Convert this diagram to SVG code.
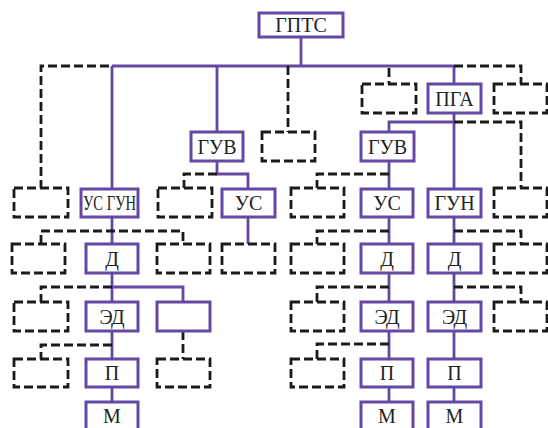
<svg xmlns="http://www.w3.org/2000/svg" width="548" height="428" viewBox="0 0 548 428">
<style>
.n{fill:#fff;stroke:#6548a3;stroke-width:3}
.d{fill:#fff;stroke:#1a1a1a;stroke-width:2.8;stroke-dasharray:9 4}
.c{fill:none;stroke:#6548a3;stroke-width:2.8}
.cd{fill:none;stroke:#1a1a1a;stroke-width:2.8;stroke-dasharray:9 4}
text{font-family:"Liberation Serif","Times New Roman",serif;font-size:20px;fill:#222;text-anchor:middle}
</style>
<rect width="548" height="428" fill="#fff"/>
<g id="connectors">
<path class="c" d="M301 37V66M112 66H454M112 66V189M217 66V132M454 66V84M217 161V174H248V189M248 217V244M112 217V244M112 273V302M112 287H183V302M112 331V359M112 387V402M454 113V189M454 122H389V132M389 161V189M389 217V244M389 273V302M389 331V359M389 387V402M454 217V244M454 273V302M454 331V359M454 387V402"/>
<path class="cd" d="M41 189V66H112M288 66V132M389 68V84M454 66H521V84M217 174H184V189M41 244V231H183V244M112 287H41V302M112 345H41V359M183 331V359M454 122H521V189M389 174H317V189M389 231H317V244M454 231H521V244M389 287H317V302M454 287H521V302M389 344H317V359"/>
</g>
<g id="gpts"><rect class="n" x="259" y="13" width="84" height="24"/><text x="301" y="32">ГПТС</text></g>
<g id="pga"><rect class="n" x="428" y="84" width="53" height="29"/><text x="454.5" y="106">ПГА</text></g>
<g id="d1"><rect class="d" x="362" y="84" width="54" height="29"/></g>
<g id="d2"><rect class="d" x="494" y="84" width="53" height="29"/></g>
<g id="guv1"><rect class="n" x="191" y="132" width="52" height="29"/><text x="217" y="154">ГУВ</text></g>
<g id="d3"><rect class="d" x="262" y="132" width="53" height="29"/></g>
<g id="guv2"><rect class="n" x="361" y="132" width="53" height="29"/><text x="387.5" y="154">ГУВ</text></g>
<g id="usgun"><rect class="n" x="81" y="189" width="57" height="28"/><text x="109.5" y="210" textLength="53" lengthAdjust="spacingAndGlyphs">УС ГУН</text></g>
<g id="us1"><rect class="n" x="222" y="189" width="53" height="28"/><text x="248.5" y="210">УС</text></g>
<g id="us2"><rect class="n" x="361" y="189" width="52" height="28"/><text x="387" y="210">УС</text></g>
<g id="gun"><rect class="n" x="428" y="189" width="53" height="28"/><text x="454.5" y="210">ГУН</text></g>
<g id="d4"><rect class="d" x="14" y="188" width="54" height="29"/></g>
<g id="d5"><rect class="d" x="158" y="188" width="54" height="29"/></g>
<g id="d6"><rect class="d" x="291" y="188" width="53" height="29"/></g>
<g id="d7"><rect class="d" x="494" y="188" width="53" height="29"/></g>
<g id="dd1"><rect class="n" x="86" y="244" width="52" height="29"/><text x="112" y="266">Д</text></g>
<g id="dd2"><rect class="n" x="361" y="244" width="52" height="29"/><text x="387" y="266">Д</text></g>
<g id="dd3"><rect class="n" x="428" y="244" width="53" height="29"/><text x="454.5" y="266">Д</text></g>
<g id="d8"><rect class="d" x="12" y="244" width="53" height="29"/></g>
<g id="d9"><rect class="d" x="157" y="244" width="53" height="29"/></g>
<g id="d10"><rect class="d" x="222" y="244" width="53" height="29"/></g>
<g id="d11"><rect class="d" x="291" y="244" width="53" height="29"/></g>
<g id="d12"><rect class="d" x="494" y="244" width="53" height="29"/></g>
<g id="ed1"><rect class="n" x="86" y="302" width="52" height="29"/><text x="112" y="324">ЭД</text></g>
<g id="blank"><rect class="n" x="157" y="302" width="53" height="29"/></g>
<g id="ed2"><rect class="n" x="361" y="302" width="52" height="29"/><text x="387" y="324">ЭД</text></g>
<g id="ed3"><rect class="n" x="428" y="302" width="53" height="29"/><text x="454.5" y="324">ЭД</text></g>
<g id="d13"><rect class="d" x="14" y="302" width="54" height="29"/></g>
<g id="d14"><rect class="d" x="291" y="302" width="53" height="29"/></g>
<g id="d15"><rect class="d" x="494" y="302" width="53" height="29"/></g>
<g id="p1"><rect class="n" x="86" y="359" width="52" height="28"/><text x="112" y="380">П</text></g>
<g id="p2"><rect class="n" x="361" y="359" width="52" height="28"/><text x="387" y="380">П</text></g>
<g id="p3"><rect class="n" x="428" y="359" width="53" height="28"/><text x="454.5" y="380">П</text></g>
<g id="d16"><rect class="d" x="14" y="359" width="54" height="28"/></g>
<g id="d17"><rect class="d" x="157" y="359" width="53" height="28"/></g>
<g id="d18"><rect class="d" x="291" y="359" width="53" height="28"/></g>
<g id="m1"><rect class="n" x="86" y="402" width="52" height="32"/><text x="112" y="423">М</text></g>
<g id="m2"><rect class="n" x="361" y="402" width="52" height="32"/><text x="387" y="423">М</text></g>
<g id="m3"><rect class="n" x="428" y="402" width="53" height="32"/><text x="454.5" y="423">М</text></g>
</svg>
